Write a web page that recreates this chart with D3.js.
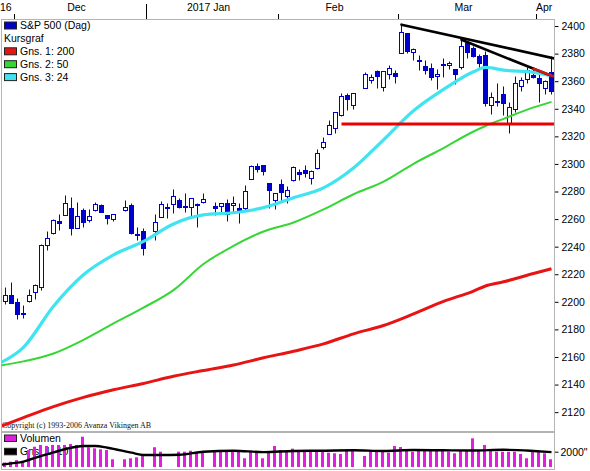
<!DOCTYPE html>
<html>
<head>
<meta charset="utf-8">
<script src="https://cdnjs.cloudflare.com/ajax/libs/d3/7.8.5/d3.min.js"></script>
<style>
  html, body { margin: 0; padding: 0; background: #fff; }
  svg { display: block; font-family: "Liberation Sans", Arial, sans-serif; }
</style>
</head>
<body>
<svg id="chart" width="590" height="471"></svg>
<script>
// Daily prices, S&P 500
const dates = [
  '2016-11-28','2016-11-29','2016-11-30',
  '2016-12-01','2016-12-02','2016-12-05','2016-12-06','2016-12-07','2016-12-08','2016-12-09',
  '2016-12-12','2016-12-13','2016-12-14','2016-12-15','2016-12-16',
  '2016-12-19','2016-12-20','2016-12-21','2016-12-22','2016-12-23',
  '2016-12-27','2016-12-28','2016-12-29','2016-12-30',
  '2017-01-03','2017-01-04','2017-01-05','2017-01-06',
  '2017-01-09','2017-01-10','2017-01-11','2017-01-12','2017-01-13',
  '2017-01-17','2017-01-18','2017-01-19','2017-01-20',
  '2017-01-23','2017-01-24','2017-01-25','2017-01-26','2017-01-27',
  '2017-01-30','2017-01-31','2017-02-01','2017-02-02','2017-02-03',
  '2017-02-06','2017-02-07','2017-02-08','2017-02-09','2017-02-10',
  '2017-02-13','2017-02-14','2017-02-15','2017-02-16','2017-02-17',
  '2017-02-21','2017-02-22','2017-02-23','2017-02-24',
  '2017-02-27','2017-02-28','2017-03-01','2017-03-02','2017-03-03',
  '2017-03-06','2017-03-07','2017-03-08','2017-03-09','2017-03-10',
  '2017-03-13','2017-03-14','2017-03-15','2017-03-16','2017-03-17',
  '2017-03-20','2017-03-21','2017-03-22','2017-03-23','2017-03-24',
  '2017-03-27','2017-03-28','2017-03-29','2017-03-30','2017-03-31',
  '2017-04-03','2017-04-04','2017-04-05'
];
const open = [
  2210.80, 2200.76, 2204.97,
  2200.17, 2191.12, 2200.65, 2207.26, 2210.72, 2241.13, 2249.73,
  2258.83, 2263.32, 2268.35, 2253.77, 2266.81,
  2259.24, 2266.50, 2270.54, 2262.93, 2260.25,
  2266.23, 2270.23, 2249.50, 2251.61,
  2251.57, 2261.60, 2268.18, 2271.14,
  2273.59, 2269.72, 2268.60, 2271.14, 2272.74,
  2269.14, 2269.14, 2271.90, 2269.96,
  2267.78, 2267.88, 2288.88, 2298.63, 2299.02,
  2286.01, 2274.02, 2285.59, 2276.69, 2288.54,
  2294.28, 2295.87, 2289.55, 2296.70, 2312.27,
  2321.72, 2326.12, 2335.58, 2349.64, 2343.01,
  2354.91, 2361.11, 2367.50, 2355.73,
  2365.23, 2366.08, 2380.13, 2394.75, 2380.92,
  2375.23, 2370.74, 2369.81, 2363.49, 2372.52,
  2371.56, 2368.55, 2370.34, 2387.71, 2383.71,
  2378.24, 2379.32, 2343.00, 2345.97, 2350.42,
  2329.11, 2339.79, 2356.54, 2361.31, 2364.82,
  2362.34, 2354.76, 2366.59
];
const high = [
  2211.14, 2210.46, 2214.10,
  2202.60, 2197.95, 2209.42, 2212.78, 2241.63, 2251.69, 2259.80,
  2264.03, 2277.53, 2276.20, 2272.12, 2268.05,
  2267.47, 2272.56, 2271.23, 2263.18, 2263.79,
  2273.82, 2271.31, 2254.51, 2253.58,
  2263.88, 2272.82, 2271.50, 2282.10,
  2275.49, 2279.27, 2275.32, 2271.78, 2278.68,
  2272.08, 2272.01, 2274.33, 2276.96,
  2271.78, 2284.63, 2299.55, 2300.99, 2299.02,
  2286.01, 2279.09, 2289.14, 2283.97, 2298.31,
  2296.18, 2299.40, 2295.91, 2311.08, 2319.23,
  2331.58, 2337.58, 2351.30, 2351.31, 2351.16,
  2366.71, 2365.13, 2368.26, 2367.34,
  2371.54, 2367.79, 2400.98, 2394.75, 2383.89,
  2378.80, 2375.12, 2373.09, 2369.08, 2376.86,
  2374.42, 2368.55, 2390.01, 2388.10, 2385.71,
  2379.55, 2381.93, 2351.81, 2358.92, 2356.22,
  2344.90, 2363.78, 2363.36, 2370.42, 2370.35,
  2365.87, 2360.53, 2378.36
];
const low = [
  2198.63, 2198.15, 2198.81,
  2187.44, 2188.37, 2199.97, 2202.21, 2208.93, 2237.57, 2249.23,
  2252.37, 2263.32, 2248.44, 2253.77, 2254.24,
  2258.21, 2266.14, 2265.15, 2256.08, 2258.84,
  2266.15, 2249.11, 2244.56, 2233.62,
  2245.13, 2261.60, 2260.45, 2264.06,
  2268.04, 2265.27, 2260.83, 2254.25, 2271.51,
  2262.81, 2263.35, 2258.41, 2265.01,
  2257.02, 2266.68, 2288.88, 2294.08, 2291.62,
  2268.04, 2267.21, 2272.44, 2271.65, 2287.88,
  2288.57, 2290.16, 2285.38, 2296.61, 2311.10,
  2321.42, 2322.17, 2334.81, 2338.87, 2339.58,
  2354.91, 2358.34, 2355.09, 2352.87,
  2361.87, 2358.96, 2380.13, 2380.17, 2375.39,
  2367.98, 2365.51, 2361.01, 2354.54, 2363.04,
  2368.52, 2358.18, 2368.94, 2377.18, 2377.64,
  2369.66, 2341.90, 2336.45, 2342.13, 2335.74,
  2322.25, 2337.63, 2352.94, 2358.58, 2362.60,
  2344.73, 2350.72, 2350.52
];
const close = [
  2201.72, 2204.66, 2198.81,
  2191.08, 2191.95, 2204.71, 2212.23, 2241.35, 2246.19, 2259.53,
  2256.96, 2271.72, 2253.28, 2262.03, 2258.07,
  2262.53, 2270.76, 2265.18, 2260.96, 2263.79,
  2268.88, 2249.92, 2249.26, 2238.83,
  2257.83, 2270.75, 2269.00, 2276.98,
  2268.90, 2268.90, 2275.32, 2270.44, 2274.64,
  2267.89, 2271.89, 2263.69, 2271.31,
  2265.20, 2280.07, 2298.37, 2296.68, 2294.69,
  2280.90, 2278.87, 2279.55, 2280.85, 2297.42,
  2292.56, 2293.08, 2294.67, 2307.87, 2316.10,
  2328.25, 2337.58, 2349.25, 2347.22, 2351.16,
  2365.38, 2362.82, 2363.81, 2367.34,
  2369.75, 2363.64, 2395.96, 2381.92, 2383.12,
  2375.31, 2368.39, 2362.98, 2364.87, 2372.60,
  2373.47, 2365.45, 2385.26, 2381.38, 2378.25,
  2373.47, 2344.02, 2348.45, 2345.96, 2343.98,
  2341.59, 2358.57, 2361.13, 2368.06, 2362.72,
  2358.84, 2360.16, 2352.95
];
// null = no bar in the picture
const volume = [
  500, 600, 700,
  900, 800, 2220, 2650, 2880, 2750, 2880,
  2880, 2880, 3010, 2880, 3960,
  2580, 2440, 2310, 2220, 1010,
  1010, 1140, 1270, 1700,
  2580, 2000, null, null,
  2000, 2000, 2130, 2000, 2000,
  2220, 2130, 2220, 2000,
  2000, 1140, 2130, 2000, 1140,
  2000, 2750, 2220, 2000, 2400,
  2180, 2135, 2220, 2135, 2135,
  1870, 1790, 1700, 2135, 2135,
  1440, 2135, 2220, 2135,
  1870, 2745, 2610, 2220, 2000,
  2135, 2135, 2135, 2135, 2135,
  2000, 1790, 2220, 2220, 3750,
  2135, 2880, 2220, 2000, 2000,
  2000, 2000, 1700, 1140, 2135,
  2135, 1790, 1010
];

// Moving averages (Gns.), read at weekly points
const maDates = [
  '2016-11-28','2016-12-02','2016-12-09','2016-12-16','2016-12-23','2016-12-30',
  '2017-01-06','2017-01-13','2017-01-20','2017-01-27','2017-02-03','2017-02-10',
  '2017-02-17','2017-02-24','2017-03-03','2017-03-10','2017-03-17','2017-03-21',
  '2017-03-24','2017-03-31','2017-04-05'
];
const ma200 = [2109.4, 2116, 2124, 2130.7, 2136.2, 2140.8, 2146, 2150.2, 2154.2, 2159.4, 2164.2,
  2169.5, 2176.8, 2182.8, 2191.2, 2200.3, 2207.8, 2211.5, 2214.5, 2220.5, 2224];
const ma50 = [2153.7, 2156.8, 2162.5, 2172.4, 2184.3, 2195.8, 2208.5, 2227.4, 2240.6, 2251, 2257.5,
  2267, 2278, 2287.2, 2300.1, 2311.5, 2323.5, 2327.5, 2332.7, 2341, 2345];
const ma24 = [2155.4, 2167, 2196.8, 2219.6, 2234, 2243.8, 2256.5, 2263, 2264.6, 2268.3, 2275.5,
  2282.6, 2297, 2317.5, 2338.5, 2354, 2366.8, 2370, 2368, 2366.4, 2364];

const volMaDates = [
  '2016-11-28','2016-11-30','2016-12-02','2016-12-05','2016-12-07','2016-12-09','2016-12-13',
  '2016-12-16','2016-12-20','2016-12-22','2016-12-28','2016-12-30','2017-01-04','2017-01-09',
  '2017-01-13','2017-01-20','2017-01-27','2017-02-03','2017-02-10','2017-02-17','2017-02-24',
  '2017-03-03','2017-03-10','2017-03-17','2017-03-24','2017-03-31','2017-04-05'
];
const volMa10 = [260, 480, 700, 950, 1450, 1900, 2350, 2745, 2745, 2520, 1870, 1570, 1570, 1600,
  2000, 2130, 1950, 2100, 2130, 2180, 2100, 2220, 2180, 2150, 2250, 2100, 1950];

// Drawn trend lines and the support level
const trendFrom = ['2017-03-01', '2017-03-15', '2017-03-31'];
const trendFromValue = [2401, 2390, 2369];
const trendTo = ['2017-04-05', '2017-04-05', '2017-04-05'];
const trendToValue = [2377, 2363.8, 2364];
const supportFrom = '2017-02-15';
const supportValue = 2329;

const yTicks = [2120, 2140, 2160, 2180, 2200, 2220, 2240, 2260, 2280, 2300, 2320, 2340, 2360, 2380, 2400];
const volTicks = [2000];
const monthLabels = ['16', 'Dec', '2017 Jan', 'Feb', 'Mar', 'Apr'];
const legendLabels = ['S&P 500 (Dag)', 'Kursgraf', 'Gns. 1: 200', 'Gns. 2: 50', 'Gns. 3: 24'];
const volLegendLabels = ['Volumen', 'Gns. 1: 10'];


const parseDate = d3.timeParse('%Y-%m-%d');
const formatDate = d3.timeFormat('%Y-%m-%d');

class StockChart {
    constructor(selector) {
        this.svg = d3.select(selector);
        this.plot = { left: 1.5, right: 554.5, top: 19.5, bottom: 432 };
        this.volPanel = { top: 432, bottom: 469.5 };
        this.colors = {
            candle: '#0000cc',
            ma200: '#e81414',
            ma50: '#36d636',
            ma24: '#3fe4f0',
            volume: '#e01ee0',
            border: '#b4b4b4'
        };
        this.initScales();
        this.draw();
    }

    initScales() {
        const first = parseDate(dates[0]);
        const last = parseDate(dates[dates.length - 1]);
        // one slot per weekday, holidays stay empty
        this.weekdays = d3.timeDay.range(first, d3.timeDay.offset(last, 1))
            .filter(d => d.getDay() !== 0 && d.getDay() !== 6)
            .map(formatDate);

        this.x = d3.scaleBand()
            .domain(this.weekdays)
            .range([-3.5, 554.5]);

        this.y = d3.scaleLinear()
            .domain([2105.6, 2405.1])
            .range([432, 19]);

        this.yVol = d3.scaleLinear()
            .domain([0, 4575])
            .range([467, 432]);
    }

    cx(key) {
        return this.x(key) + this.x.bandwidth() / 2;
    }

    draw() {
        const svg = this.svg;
        svg.append('rect').attr('width', 590).attr('height', 471).attr('fill', '#fff');

        const defs = svg.append('defs');
        defs.append('clipPath').attr('id', 'clip-main')
            .append('rect')
            .attr('x', this.plot.left + 0.5).attr('y', this.plot.top + 0.5)
            .attr('width', this.plot.right - this.plot.left - 1)
            .attr('height', this.plot.bottom - this.plot.top - 0.5);
        defs.append('clipPath').attr('id', 'clip-vol')
            .append('rect')
            .attr('x', this.plot.left + 0.5).attr('y', this.volPanel.top + 1)
            .attr('width', this.plot.right - this.plot.left - 1)
            .attr('height', this.volPanel.bottom - this.volPanel.top - 1.5);

        this.drawTopAxis();
        this.drawRightAxis();

        const main = svg.append('g').attr('clip-path', 'url(#clip-main)');
        this.drawLegend(main);

        main.append('text')
            .attr('x', 2).attr('y', 428)
            .attr('font-family', '"Liberation Serif", "Times New Roman", serif')
            .attr('font-size', 8)
            .attr('fill', '#111')
            .text('Copyright (c) 1993-2006 Avanza Vikingen AB');

        this.drawCandles(main);
        this.drawAverages(main);
        this.drawTrendLines(main);

        const vol = svg.append('g').attr('clip-path', 'url(#clip-vol)');
        this.drawVolume(vol);

        this.drawBorders();
    }

    drawTopAxis() {
        const g = this.svg.append('g').attr('class', 'top-axis');
        const monthStarts = this.weekdays.filter((k, i) =>
            i > 0 && k.slice(0, 7) !== this.weekdays[i - 1].slice(0, 7));

        g.selectAll('line')
            .data(monthStarts)
            .join('line')
            .attr('x1', d => this.x(d)).attr('x2', d => this.x(d))
            .attr('y1', d => d.slice(5, 7) === '01' ? 4 : 14)
            .attr('y2', this.plot.top)
            .attr('stroke', '#000')
            .attr('stroke-width', 1);

        const bounds = [this.x.range()[0], ...monthStarts.map(d => this.x(d)), this.plot.right];
        g.selectAll('text')
            .data(monthLabels)
            .join('text')
            .attr('x', (d, i) => {
                if (i === 0) return 0;
                if (i === monthLabels.length - 1) return bounds[i] - 0.5;
                return (bounds[i] + bounds[i + 1]) / 2 - 4;
            })
            .attr('y', 11)
            .attr('text-anchor', (d, i) => (i === 0 || i === monthLabels.length - 1) ? 'start' : 'middle')
            .attr('font-size', 10.5)
            .attr('fill', '#000')
            .text(d => d);
    }

    drawRightAxis() {
        const axis = d3.axisRight(this.y)
            .tickValues(yTicks)
            .tickSize(4)
            .tickPadding(3)
            .tickFormat(d3.format('d'));
        const g = this.svg.append('g')
            .attr('transform', `translate(${this.plot.right},0)`)
            .call(axis);
        g.select('.domain').remove();
        g.selectAll('text').attr('font-size', 10.5).attr('font-family', '"Liberation Sans", Arial, sans-serif');

        const volAxis = d3.axisRight(this.yVol)
            .tickValues(volTicks)
            .tickSize(4)
            .tickPadding(2)
            .tickFormat(d => `${d}"`);
        const gv = this.svg.append('g')
            .attr('transform', `translate(${this.plot.right},0)`)
            .call(volAxis);
        gv.select('.domain').remove();
        gv.selectAll('text').attr('font-size', 10.5).attr('font-family', '"Liberation Sans", Arial, sans-serif');
    }

    drawLegend(g) {
        const swatch = [this.colors.candle, null, this.colors.ma200, this.colors.ma50, this.colors.ma24];
        const rows = g.append('g').attr('class', 'legend')
            .selectAll('g')
            .data(legendLabels)
            .join('g')
            .attr('transform', (d, i) => `translate(0,${25.5 + i * 12.9})`);

        rows.filter((d, i) => swatch[i])
            .append('rect')
            .attr('x', 4.5).attr('y', -3.5)
            .attr('width', 12).attr('height', 7)
            .attr('fill', (d, i) => swatch[legendLabels.indexOf(d)])
            .attr('stroke', '#222');

        rows.append('text')
            .attr('x', (d, i) => swatch[i] ? 20 : 4)
            .attr('y', 3.8)
            .attr('font-size', 10.5)
            .attr('fill', '#000')
            .text(d => d);
    }

    drawCandles(g) {
        const candles = dates.map((d, i) => ({
            date: d, o: open[i], h: high[i], l: low[i], c: close[i]
        }));
        const px = v => Math.round(this.y(v)) + 0.5;
        const layer = g.append('g').attr('class', 'candles');

        layer.selectAll('line')
            .data(candles)
            .join('line')
            .attr('x1', d => this.cx(d.date)).attr('x2', d => this.cx(d.date))
            .attr('y1', d => px(d.h)).attr('y2', d => px(d.l))
            .attr('stroke', this.colors.candle)
            .attr('stroke-width', 1);

        layer.selectAll('rect')
            .data(candles)
            .join('rect')
            .attr('x', d => this.cx(d.date) - 2)
            .attr('width', 4)
            .attr('y', d => px(Math.max(d.o, d.c)))
            .attr('height', d => Math.max(1, px(Math.min(d.o, d.c)) - px(Math.max(d.o, d.c))))
            .attr('fill', d => d.c >= d.o ? '#fff' : this.colors.candle)
            .attr('stroke', this.colors.candle)
            .attr('stroke-width', 1);
    }

    drawAverages(g) {
        const line = d3.line()
            .x(d => this.cx(d.date))
            .y(d => this.y(d.v))
            .curve(d3.curveMonotoneX);

        const series = [
            { values: ma200, color: this.colors.ma200, width: 3 },
            { values: ma50, color: this.colors.ma50, width: 2 },
            { values: ma24, color: this.colors.ma24, width: 3.2 }
        ];
        series.forEach(s => {
            g.append('path')
                .datum(maDates.map((d, i) => ({ date: d, v: s.values[i] })))
                .attr('d', line)
                .attr('fill', 'none')
                .attr('stroke', s.color)
                .attr('stroke-width', s.width)
                .attr('stroke-linejoin', 'round');
        });
    }

    drawTrendLines(g) {
        // support level runs to the right edge
        g.append('line')
            .attr('x1', this.cx(supportFrom)).attr('x2', this.plot.right)
            .attr('y1', this.y(supportValue)).attr('y2', this.y(supportValue))
            .attr('stroke', '#ee0000')
            .attr('stroke-width', 3);

        const trendColors = ['#000', '#000', '#d01818'];
        trendFrom.forEach((from, i) => {
            const x1 = this.cx(from), y1 = this.y(trendFromValue[i]);
            const x2 = this.cx(trendTo[i]), y2 = this.y(trendToValue[i]);
            const slope = (y2 - y1) / (x2 - x1);
            const xEnd = this.plot.right;
            g.append('line')
                .attr('x1', x1).attr('y1', y1)
                .attr('x2', xEnd).attr('y2', y1 + slope * (xEnd - x1))
                .attr('stroke', trendColors[i])
                .attr('stroke-width', 2.6)
                .attr('stroke-linecap', 'round');
        });
    }

    drawVolume(g) {
        const swatch = [this.colors.volume, '#000'];
        const legend = g.append('g').attr('class', 'vol-legend')
            .selectAll('g')
            .data(volLegendLabels)
            .join('g')
            .attr('transform', (d, i) => `translate(0,${438 + i * 13.3})`);
        legend.append('rect')
            .attr('x', 4.5).attr('y', -3)
            .attr('width', 12).attr('height', 6.5)
            .attr('fill', (d, i) => swatch[i])
            .attr('stroke', '#222');
        legend.append('text')
            .attr('x', 20).attr('y', 3.8)
            .attr('font-size', 10.5)
            .attr('fill', '#000')
            .text(d => d);

        const bars = dates
            .map((d, i) => ({ date: d, v: volume[i] }))
            .filter(d => d.v !== null);

        g.selectAll('rect.vol')
            .data(bars)
            .join('rect')
            .attr('class', 'vol')
            .attr('x', d => this.cx(d.date) - 2.5)
            .attr('width', 3)
            .attr('y', d => this.yVol(d.v))
            .attr('height', d => this.yVol(0) - this.yVol(d.v))
            .attr('fill', this.colors.volume);

        const line = d3.line()
            .x(d => this.cx(d.date))
            .y(d => this.yVol(d.v))
            .curve(d3.curveMonotoneX);
        g.append('path')
            .datum(volMaDates.map((d, i) => ({ date: d, v: volMa10[i] })))
            .attr('d', line)
            .attr('fill', 'none')
            .attr('stroke', '#000')
            .attr('stroke-width', 2.4);
    }

    drawBorders() {
        const g = this.svg.append('g').attr('class', 'borders')
            .attr('fill', 'none').attr('stroke', this.colors.border);
        g.append('rect')
            .attr('x', this.plot.left).attr('y', this.plot.top)
            .attr('width', this.plot.right - this.plot.left)
            .attr('height', this.volPanel.bottom - this.plot.top);
        g.append('line')
            .attr('x1', this.plot.left).attr('x2', this.plot.right)
            .attr('y1', this.plot.bottom).attr('y2', this.plot.bottom)
            .attr('stroke-width', 2);
    }
}

document.addEventListener('DOMContentLoaded', () => {
    try {
        new StockChart('#chart');
    } catch (error) {
        console.error('Error drawing chart:', error);
    }
});
</script>
</body>
</html>
